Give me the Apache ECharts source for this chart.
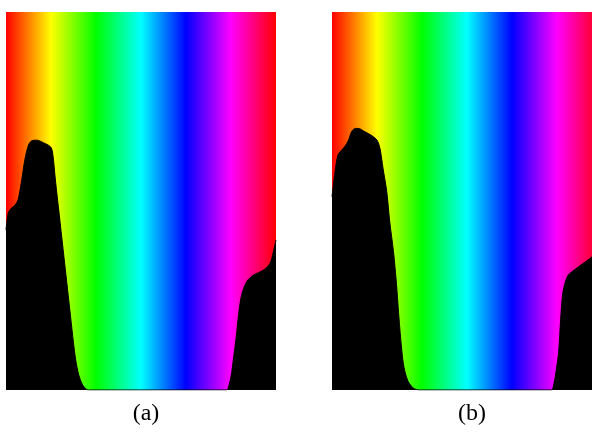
<!DOCTYPE html>
<html>
<head>
<meta charset="utf-8">
<script src="https://cdn.jsdelivr.net/npm/echarts@6/dist/echarts.min.js"></script>
<style>
  html, body { margin: 0; padding: 0; background: #fff; }
  #main { width: 592px; height: 433px; }
</style>
</head>
<body>
<div id="main"></div>
<script>
// hue (degrees) vs relative count (% of panel height)
const hueA = [0, 3, 7, 12, 16, 21, 25, 30, 34, 41, 50, 59, 62, 66, 71, 76, 81, 86, 90, 93, 97, 101, 105, 110,
  294, 296, 300, 303, 307, 310, 314, 321, 330, 343, 352, 356, 360];
const countA = [42.3, 46.8, 48.1, 48.9, 50.3, 55.6, 60.8, 64.8, 65.9, 66.1, 65.4, 64.4, 63.0, 55.3, 46.4, 37.5, 28.5, 19.6, 12.5, 7.9, 4.0, 1.8, 0.6, 0,
  0, 0.4, 3.5, 7.9, 14.1, 19.8, 25.0, 28.7, 30.4, 31.7, 33.5, 36.2, 39.7];

const hueB = [0, 4, 8, 13, 17, 22, 26, 31, 35, 44, 53, 60, 64, 68, 73, 77, 82, 86, 89, 93, 96, 101, 106, 110, 116,
  292, 296, 299, 302, 304, 306, 308, 312, 315, 320, 326, 335, 347, 360];
const countB = [51.1, 57.7, 62.2, 63.5, 64.4, 66.1, 68.3, 69.2, 69.2, 68.3, 67.3, 66.1, 63.9, 58.7, 52.5, 44.5, 36.6, 28.0, 19.8, 10.6, 6.0, 2.5, 1.0, 0.3, 0,
  0, 1.8, 5.3, 9.7, 15.9, 22.0, 26.0, 29.1, 30.4, 31.3, 32.2, 33.5, 35.3, 38.4];

const panelLabels = ['(a)', '(b)'];

const myChart = echarts.init(document.getElementById('main'));

// full hue wheel laid out left to right
const hueGradient = {
  type: 'linear', x: 0, y: 0, x2: 1, y2: 0,
  colorStops: [
    { offset: 0, color: '#ff0000' },
    { offset: 1 / 6, color: '#ffff00' },
    { offset: 2 / 6, color: '#00ff00' },
    { offset: 3 / 6, color: '#00ffff' },
    { offset: 4 / 6, color: '#0000ff' },
    { offset: 5 / 6, color: '#ff00ff' },
    { offset: 1, color: '#ff0000' },
  ],
};

const panelLeft = [6, 332];

const grids = panelLeft.map((left) => ({
  left: left,
  top: 12,
  width: 270,
  height: 378,
  show: true,
  borderWidth: 0,
  backgroundColor: hueGradient,
  outerBoundsMode: 'none',
}));

const axisBase = { show: false };

const makeSeries = (hue, count, i) => ({
  type: 'line',
  xAxisIndex: i,
  yAxisIndex: i,
  data: hue.map((h, k) => [h, count[k]]),
  smooth: 0.3,
  symbol: 'none',
  lineStyle: { color: '#000', width: 1 },
  areaStyle: { color: '#000', opacity: 1 },
  silent: true,
});

const option = {
  animation: false,
  grid: grids,
  xAxis: grids.map((g, i) => ({ ...axisBase, type: 'value', gridIndex: i, min: 0, max: 360 })),
  yAxis: grids.map((g, i) => ({ ...axisBase, type: 'value', gridIndex: i, min: 0, max: 100 })),
  title: panelLabels.map((t, i) => ({
    text: t,
    left: panelLeft[i] + 135,
    top: 397,
    textAlign: 'center',
    textStyle: {
      fontFamily: 'Liberation Serif',
      fontSize: 24,
      fontWeight: 'normal',
      color: '#000',
    },
  })),
  series: [makeSeries(hueA, countA, 0), makeSeries(hueB, countB, 1)],
};

myChart.setOption(option);
</script>
</body>
</html>
